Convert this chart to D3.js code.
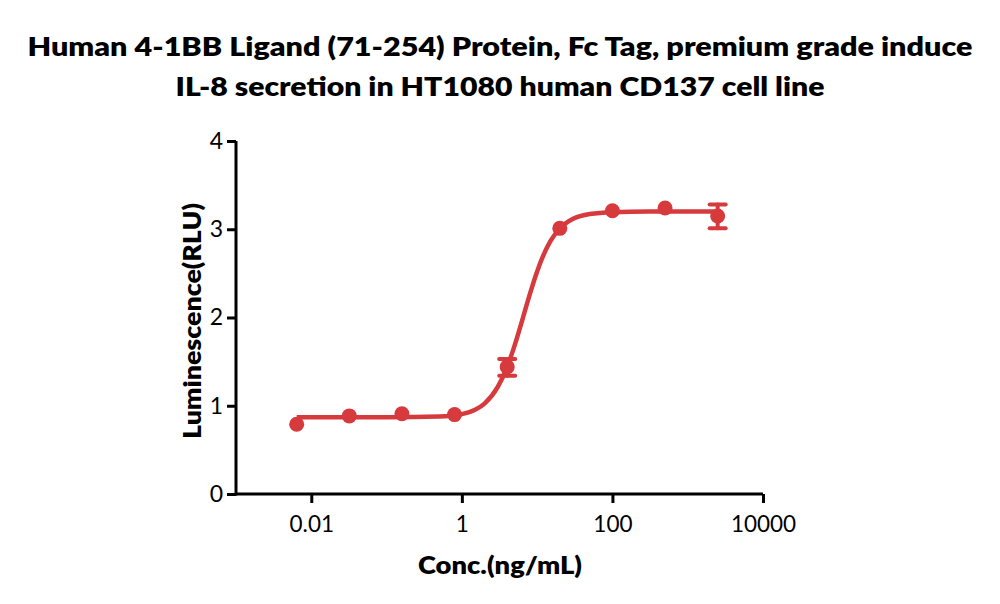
<!DOCTYPE html>
<html>
<head>
<meta charset="utf-8">
<script src="https://cdn.jsdelivr.net/npm/d3@7"></script>
<style>
  html, body { margin: 0; padding: 0; background: #fff; }
  svg { display: block; }
  text { font-family: Lato, "Open Sans", sans-serif; fill: #000; }
</style>
</head>
<body>
<svg id="chart" width="1000" height="604"></svg>
<script>
// ---- data ----
const titleLines = [
  "Human 4-1BB Ligand (71-254) Protein, Fc Tag, premium grade induce",
  "IL-8 secretion in HT1080 human CD137 cell line"
];
const xLabel = "Conc.(ng/mL)";
const yLabel = "Luminescence(RLU)";
const xTicks = [0.01, 1, 100, 10000];
const xTickLabels = ["0.01", "1", "100", "10000"];
const yTicks = [0, 1, 2, 3, 4];
const concentrations = [0.0064, 0.032, 0.16, 0.8, 4, 20, 100, 500, 2500];
const means = [0.79, 0.885, 0.91, 0.90, 1.44, 3.01, 3.21, 3.24, 3.15];
const errLow = [0.79, 0.885, 0.91, 0.90, 1.34, 3.01, 3.21, 3.24, 3.01];
const errHigh = [0.79, 0.885, 0.91, 0.90, 1.53, 3.01, 3.21, 3.24, 3.28];
// fitted curve
const curveX = [0.0064, 0.1, 0.5, 1, 1.5, 2, 3, 4, 5, 6, 7, 8, 10, 12, 15, 20, 30, 50, 100, 300, 2500];
const curveY = [0.87, 0.87, 0.878, 0.905, 0.954, 1.024, 1.213, 1.441, 1.678, 1.90, 2.097, 2.265, 2.522, 2.697, 2.865, 3.009, 3.118, 3.173, 3.194, 3.20, 3.20];

const red = "#d63a3d";

const svg = d3.select("#chart");
const x = d3.scaleLog().domain([0.001, 10000]).range([236, 763]);
const y = d3.scaleLinear().domain([0, 4]).range([494, 141]);

// title
const titleY = [56, 96];
const titleW = [945, 649];
titleLines.forEach((t, i) => {
  svg.append("text")
    .attr("x", 500).attr("y", titleY[i])
    .attr("text-anchor", "middle")
    .attr("font-size", 27).attr("font-weight", 800)
    .attr("textLength", titleW[i]).attr("lengthAdjust", "spacingAndGlyphs")
    .text(t);
});

// axes
const xAxis = d3.axisBottom(x).tickValues(xTicks)
  .tickFormat((d, i) => xTickLabels[i]).tickSize(9).tickPadding(13);
const gx = svg.append("g").attr("transform", "translate(0,494)").call(xAxis);
gx.select(".domain").attr("stroke", "#000").attr("stroke-width", 3)
  .attr("d", "M" + x.range()[0] + ",0H" + x.range()[1]);
gx.selectAll(".tick line").attr("stroke", "#000").attr("stroke-width", 3);
gx.selectAll(".tick text").attr("font-size", 22.5).attr("font-family", "Lato, sans-serif").attr("fill", "#000").attr("dy", "0.72em");

const yAxis = d3.axisLeft(y).tickValues(yTicks).tickFormat(d3.format("d")).tickSize(9).tickPadding(4);
const gy = svg.append("g").attr("transform", "translate(236,0)").call(yAxis);
gy.select(".domain").attr("stroke", "#000").attr("stroke-width", 3)
  .attr("d", "M0," + y.range()[1] + "V" + (y.range()[0] + 1.5));
gy.selectAll(".tick line").attr("stroke", "#000").attr("stroke-width", 3);
gy.selectAll(".tick text").attr("font-size", 23).attr("font-family", "Lato, sans-serif").attr("fill", "#000");

// axis labels
svg.append("text")
  .attr("x", 500).attr("y", 574).attr("text-anchor", "middle")
  .attr("font-size", 25).attr("font-weight", 800)
  .attr("textLength", 164).attr("lengthAdjust", "spacingAndGlyphs")
  .text(xLabel);
svg.append("text")
  .attr("transform", "translate(201,321) rotate(-90)")
  .attr("text-anchor", "middle")
  .attr("font-size", 25).attr("font-weight", 800)
  .attr("textLength", 236).attr("lengthAdjust", "spacingAndGlyphs")
  .text(yLabel);

// curve
const curveData = curveX.map((c, i) => [c, curveY[i]]);
svg.append("path")
  .datum(curveData)
  .attr("fill", "none").attr("stroke", red).attr("stroke-width", 4.5)
  .attr("d", d3.line().x(d => x(d[0])).y(d => y(d[1])).curve(d3.curveMonotoneX));

// error bars
const pts = concentrations.map((c, i) => ({c, m: means[i], lo: errLow[i], hi: errHigh[i]}));
const eb = svg.append("g").attr("stroke", red).attr("stroke-width", 4).attr("stroke-linecap", "round");
pts.filter(d => d.hi - d.lo > 0.05).forEach(d => {
  const cx = x(d.c);
  eb.append("line").attr("x1", cx).attr("x2", cx).attr("y1", y(d.lo)).attr("y2", y(d.hi));
  eb.append("line").attr("x1", cx - 8).attr("x2", cx + 8).attr("y1", y(d.lo)).attr("y2", y(d.lo));
  eb.append("line").attr("x1", cx - 8).attr("x2", cx + 8).attr("y1", y(d.hi)).attr("y2", y(d.hi));
});

// points
svg.append("g").selectAll("circle").data(pts).join("circle")
  .attr("cx", d => x(d.c)).attr("cy", d => y(d.m)).attr("r", 7.5)
  .attr("fill", red);
</script>
</body>
</html>
